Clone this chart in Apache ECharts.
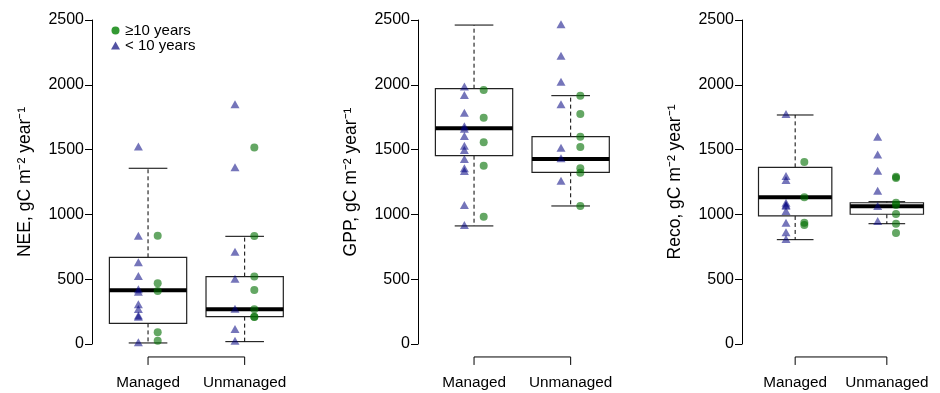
<!DOCTYPE html>
<html><head><meta charset="utf-8">
<script src="https://cdn.jsdelivr.net/npm/echarts@6/dist/echarts.min.js"></script>
<style>html,body{margin:0;padding:0;background:#fff}#c{width:940px;height:393px}</style>
</head><body><div id="c"></div>
<script>
// ---- data ----
const categories = ['Managed', 'Unmanaged'];
const yTicks = [0, 500, 1000, 1500, 2000, 2500];
const panelNames = ['NEE', 'GPP', 'Reco'];
const legendNames = ['\u226510 years', '< 10 years'];

// box stats per category: [lower whisker, Q1, median, Q3, upper whisker]
const neeBox = [[8, 159, 414, 669, 1356], [18, 211, 268, 520, 831]];
const neeOldManaged = [836, 468, 409, 90, 25];
const neeYoungManaged = [1523, 836, 630, 525, 422, 404, 306, 270, 220, 210, 13];
const neeOldUnmanaged = [1517, 833, 520, 417, 268, 211, 209];
const neeYoungUnmanaged = [1849, 1363, 712, 504, 272, 116, 25];

const gppBox = [[911, 1453, 1664, 1970, 2461], [1065, 1325, 1427, 1600, 1916]];
const gppOldManaged = [1960, 1746, 1556, 1376, 982];
const gppYoungManaged = [1986, 1921, 1785, 1680, 1660, 1605, 1530, 1497, 1427, 1356, 1335, 1073, 918];
const gppOldUnmanaged = [1916, 1775, 1600, 1520, 1356, 1322, 1065];
const gppYoungUnmanaged = [2467, 2225, 2024, 1849, 1515, 1433, 1260];

const recoBox = [[805, 988, 1132, 1363, 1767], [928, 1001, 1062, 1090, 1098]];
const recoOldManaged = [1404, 1132, 936, 918];
const recoYoungManaged = [1775, 1296, 1265, 1090, 1075, 1067, 1026, 936, 862, 810];
const recoOldUnmanaged = [1290, 1280, 1090, 1073, 1003, 928, 856];
const recoYoungUnmanaged = [1600, 1463, 1337, 1183, 1065, 949];

// ---- layout ----
const FONT = '"Liberation Sans", Arial, Helvetica, sans-serif';
const panelLeft = [92, 418, 742];
const gridW = 208.7, gridTop = 20, gridH = 324;
const triCol = 'rgba(0,0,128,0.68)';
const cirCol = 'rgba(0,110,0,0.76)';
const yName = n => n + ', gC m\u207B\u00B2 year\u207B\u00B9';

const panels = [
  {box: neeBox, old: [neeOldManaged, neeOldUnmanaged], young: [neeYoungManaged, neeYoungUnmanaged]},
  {box: gppBox, old: [gppOldManaged, gppOldUnmanaged], young: [gppYoungManaged, gppYoungUnmanaged]},
  {box: recoBox, old: [recoOldManaged, recoOldUnmanaged], young: [recoYoungManaged, recoYoungUnmanaged]}
];

const grid = [], xAxis = [], yAxis = [], series = [];
panels.forEach((p, i) => {
  grid.push({left: panelLeft[i], top: gridTop, width: gridW, height: gridH});
  xAxis.push({type: 'value', gridIndex: i, min: 0.42, max: 2.58, show: false});
  yAxis.push({
    type: 'value', gridIndex: i, min: yTicks[0], max: yTicks[yTicks.length - 1], interval: 500,
    axisLine: {show: true, lineStyle: {color: '#000', width: 1}},
    axisTick: {show: true, length: 7, lineStyle: {color: '#000'}},
    axisLabel: {color: '#000', fontSize: 16, fontFamily: FONT, margin: 8, formatter: v => String(v)},
    splitLine: {show: false},
    name: yName(panelNames[i]), nameLocation: 'middle', nameGap: 58, nameRotate: 90,
    nameTextStyle: {color: '#000', fontSize: 17.5, fontFamily: FONT}
  });
  // boxes
  series.push({
    type: 'custom', xAxisIndex: i, yAxisIndex: i, clip: false, z: 2,
    data: p.box.map((b, k) => [k + 1].concat(b)),
    renderItem: (params, api) => {
      const x = api.value(0);
      const lo = api.coord([x, api.value(1)]), q1 = api.coord([x, api.value(2)]);
      const md = api.coord([x, api.value(3)]), q3 = api.coord([x, api.value(4)]);
      const hi = api.coord([x, api.value(5)]);
      const hw = api.size([0.4, 0])[0], cw = api.size([0.2, 0])[0];
      const cx = lo[0];
      const dash = {stroke: '#000', lineWidth: 1, lineDash: [4, 3]};
      const solid = {stroke: '#000', lineWidth: 1};
      return {type: 'group', children: [
        {type: 'line', shape: {x1: cx, y1: q3[1], x2: cx, y2: hi[1]}, style: dash},
        {type: 'line', shape: {x1: cx, y1: q1[1], x2: cx, y2: lo[1]}, style: dash},
        {type: 'line', shape: {x1: cx - cw, y1: hi[1], x2: cx + cw, y2: hi[1]}, style: solid},
        {type: 'line', shape: {x1: cx - cw, y1: lo[1], x2: cx + cw, y2: lo[1]}, style: solid},
        {type: 'rect', shape: {x: cx - hw, y: q3[1], width: 2 * hw, height: q1[1] - q3[1]},
          style: {fill: 'none', stroke: '#222', lineWidth: 1.2}},
        {type: 'line', shape: {x1: cx - hw, y1: md[1], x2: cx + hw, y2: md[1]},
          style: {stroke: '#000', lineWidth: 4}}
      ]};
    }
  });
  // bracket + category labels
  series.push({
    type: 'custom', xAxisIndex: i, yAxisIndex: i, clip: false, silent: true,
    data: [[1, 2]],
    renderItem: (params, api) => {
      const a = api.coord([api.value(0), -100]), b = api.coord([api.value(1), -100]);
      const y = a[1];
      const st = {stroke: '#000', lineWidth: 1};
      return {type: 'group', children: [
        {type: 'line', shape: {x1: a[0], y1: y, x2: b[0], y2: y}, style: st},
        {type: 'line', shape: {x1: a[0], y1: y, x2: a[0], y2: y + 8}, style: st},
        {type: 'line', shape: {x1: b[0], y1: y, x2: b[0], y2: y + 8}, style: st},
        {type: 'text', x: a[0], y: y + 26, style: {text: categories[0], fill: '#000', fontSize: 15.3,
          fontFamily: FONT, align: 'center', verticalAlign: 'middle'}},
        {type: 'text', x: b[0], y: y + 26, style: {text: categories[1], fill: '#000', fontSize: 15.3,
          fontFamily: FONT, align: 'center', verticalAlign: 'middle'}}
      ]};
    }
  });
  // points
  const young = [], old = [];
  p.young.forEach((arr, k) => arr.forEach(v => young.push([k + 1 - 0.1, v])));
  p.old.forEach((arr, k) => arr.forEach(v => old.push([k + 1 + 0.1, v])));
  series.push({type: 'scatter', name: legendNames[1], xAxisIndex: i, yAxisIndex: i, z: 5,
    symbol: 'triangle', symbolSize: [9, 8], itemStyle: {color: triCol}, data: young, clip: false});
  series.push({type: 'scatter', name: legendNames[0], xAxisIndex: i, yAxisIndex: i, z: 5,
    symbol: 'circle', symbolSize: 8, itemStyle: {color: cirCol}, data: old, clip: false});
});

const chart = echarts.init(document.getElementById('c'), null, {renderer: 'canvas'});
chart.setOption({
  animation: false,
  backgroundColor: '#fff',
  textStyle: {fontFamily: FONT},
  grid, xAxis, yAxis, series,
  legend: {
    left: 106, top: 18, orient: 'vertical', itemGap: 0, itemWidth: 9, itemHeight: 8,
    selectedMode: false,
    textStyle: {color: '#000', fontSize: 15, fontFamily: FONT, padding: [0, 0, 0, 0], lineHeight: 13},
    data: [
      {name: legendNames[0], icon: 'circle', itemStyle: {color: 'rgb(0,128,0)'}},
      {name: legendNames[1], icon: 'triangle', itemStyle: {color: 'rgb(40,40,140)'}}
    ]
  }
});
</script></body></html>
